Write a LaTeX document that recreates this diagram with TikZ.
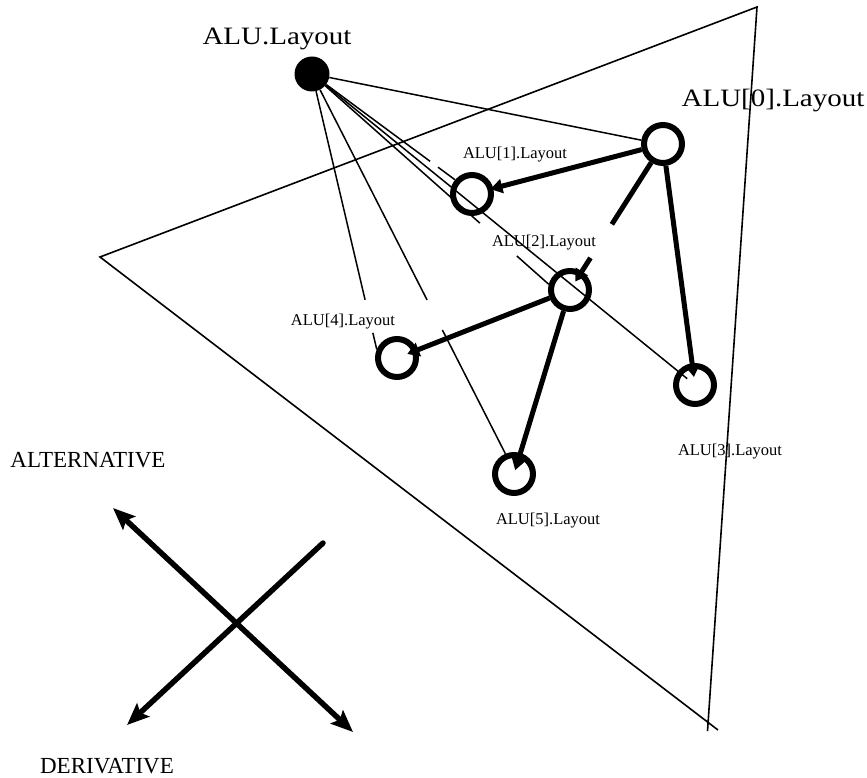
\documentclass[tikz,border=0pt]{standalone}
\usepackage{fontspec}
\usepackage{graphicx}
\setmainfont{Liberation Serif}
\usetikzlibrary{arrows.meta,calc}
\newcommand\widetxt[1]{\scalebox{1.16}[1]{#1}}
\begin{document}
\begin{tikzpicture}[x=1pt,y=-1pt,
  ring/.style={circle,draw,line width=6pt,minimum size=38pt,inner sep=0pt},
  hub/.style={circle,fill,minimum size=35pt,inner sep=0pt},
  biglbl/.style={anchor=base,inner sep=0pt,font=\fontsize{25}{25}\selectfont},
  smalllbl/.style={anchor=base,inner sep=0pt,font=\fontsize{16.5}{16.5}\selectfont},
  axislbl/.style={anchor=base,inner sep=0pt,font=\fontsize{23}{23}\selectfont},
  link/.style={line width=1.5pt},
  edge/.style={line width=5pt},
  edgearrow/.style={line width=5pt,-{Triangle[length=12pt,width=14pt]}},
  frame/.style={line width=1.6pt},
  axis/.style={line width=5.5pt,>={Stealth[length=22pt,width=18pt,inset=4pt]}},
]
\useasboundingbox (0,0) rectangle (867,778);

% triangle frame
\coordinate (tA) at (100,257);
\coordinate (tB) at (757,7);
\coordinate (tC1) at (707.5,731);
\coordinate (tC2) at (718,730);
\draw[frame] (tC1) -- (tB) -- (tA) -- (tC2);

% layout nodes
\node[hub]  (top) at (312,74) {};
\node[ring] (a0) at (663,144) {};
\node[ring] (a1) at (472,194) {};
\node[ring] (a2) at (570,290) {};
\node[ring] (a3) at (695,385) {};
\node[ring] (a4) at (397,358) {};
\node[ring] (a5) at (514,474) {};

% labels
\node[biglbl]   (ltop) at (277,45)  {\widetxt{ALU.Layout}};
\node[biglbl]   (l0)   at (773,107) {\widetxt{ALU[0].Layout}};
\node[smalllbl] (l1)   at (515,159) {ALU[1].Layout};
\node[smalllbl] (l2)   at (544,246) {ALU[2].Layout};
\node[smalllbl] (l3)   at (730,455) {ALU[3].Layout};
\node[smalllbl] (l4)   at (343,325) {ALU[4].Layout};
\node[smalllbl] (l5)   at (548,524) {ALU[5].Layout};
\node[axislbl]  (lalt) at (88,467)  {ALTERNATIVE};
\node[axislbl]  (lder) at (107,773) {DERIVATIVE};

% thin links from the top layout
\draw[link] (top) -- (a0.170);
\draw[link] (top) -- ($(top)!0.825!(a1.140)$);
\draw[link] ($(top)!0.88!(a1.140)$) -- (a1.140);
\draw[link] (top) -- ($(top)!0.709!(a2.165)$);
\draw[link] ($(top)!0.865!(a2.165)$) -- (a2.165);
\draw[link,shorten >=10pt] (top) -- (a3.center);
\draw[link] (top) -- ($(top)!0.82!(a4.157)$);
\draw[link] ($(top)!0.94!(a4.157)$) -- (a4.157);
\draw[link] (top) -- ($(top)!0.595!(a5.113)$);
\draw[link] ($(top)!0.674!(a5.113)$) -- (a5.113);

% thick derivation edges
\draw[edgearrow,shorten >=19pt] (a0) -- (a1.center);
\draw[edgearrow,shorten >=8pt] (a0) -- (a3.center);
\draw[edge] (a0) -- ($(a0)!0.55!(a2)$);
\draw[edgearrow,shorten >=10pt] ($(a0)!0.78!(a2)$) -- (a2.center);
\draw[edgearrow,shorten >=11pt] (a2) -- (a4.center);
\draw[edgearrow,shorten >=4pt] (a2) -- (a5.center);

% axes cross
\coordinate (x1a) at (113,508);
\coordinate (x1b) at (353,732);
\coordinate (x2a) at (323,543);
\coordinate (x2b) at (127,725);
\draw[axis,<->] (x1a) -- (x1b);
\draw[axis,line cap=round,->] (x2a) -- (x2b);
\end{tikzpicture}
\end{document}
